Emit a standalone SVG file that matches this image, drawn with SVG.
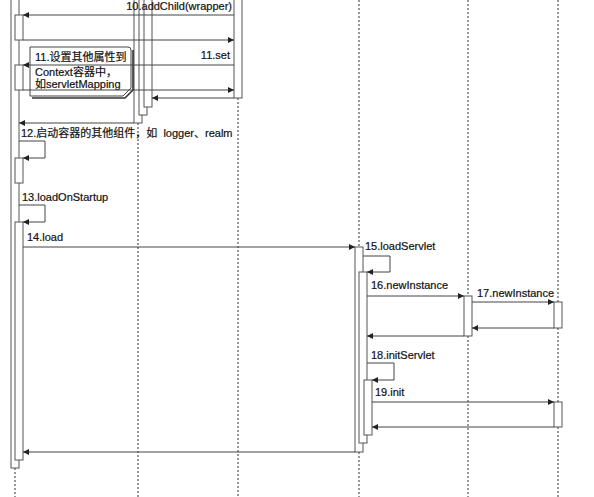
<svg xmlns="http://www.w3.org/2000/svg" width="594" height="497" viewBox="0 0 594 497">
<defs>
<marker id="ah" viewBox="0 0 10 10" refX="10" refY="5" markerWidth="7" markerHeight="6" orient="auto" markerUnits="userSpaceOnUse">
<path d="M0,0 L10,5 L0,10 Z" fill="#222"/>
</marker>
</defs>
<style>
.ll{stroke:#555;stroke-width:1.2;stroke-dasharray:2 2;fill:none}
.bar{fill:#fff;stroke:#555;stroke-width:1}
.msg{stroke:#444;stroke-width:1;fill:none;marker-end:url(#ah)}
text{font-family:"Liberation Sans","Noto Sans CJK SC",sans-serif;font-size:11px;fill:#111;stroke:#111;stroke-width:0.2;white-space:pre}
.r{text-anchor:end}
</style>
<rect width="594" height="497" fill="#fff"/>
<g id="lifeline-left">
<line class="ll" x1="15" y1="468" x2="15" y2="497"/>
<rect class="bar" x="11" y="-1" width="8" height="469"/>
<rect class="bar" x="15" y="15" width="8" height="25"/>
<rect class="bar" x="15" y="65" width="8" height="25"/>
<rect class="bar" x="15" y="158" width="8" height="25"/>
<rect class="bar" x="15" y="222" width="8" height="238"/>
</g>
<g id="lifeline-2">
<line class="ll" x1="138" y1="123" x2="138" y2="497"/>
<rect class="bar" x="134" y="-1" width="8" height="124"/>
<rect class="bar" x="139" y="-1" width="8" height="116"/>
<rect class="bar" x="144" y="-1" width="8" height="108"/>
</g>
<g id="lifeline-3">
<line class="ll" x1="238" y1="98" x2="238" y2="497"/>
<rect class="bar" x="234" y="-1" width="8" height="99"/>
</g>
<g id="lifeline-4">
<line class="ll" x1="359" y1="0" x2="359" y2="247"/>
<line class="ll" x1="359" y1="452" x2="359" y2="497"/>
<rect class="bar" x="355" y="247" width="8" height="205"/>
<rect class="bar" x="359" y="272" width="8" height="171"/>
<rect class="bar" x="364" y="380" width="8" height="55"/>
</g>
<g id="lifeline-5">
<line class="ll" x1="468" y1="0" x2="468" y2="296"/>
<line class="ll" x1="468" y1="336" x2="468" y2="497"/>
<rect class="bar" x="464" y="296" width="8" height="40"/>
</g>
<g id="lifeline-6">
<line class="ll" x1="558" y1="0" x2="558" y2="302"/>
<line class="ll" x1="558" y1="328" x2="558" y2="402"/>
<line class="ll" x1="558" y1="427" x2="558" y2="497"/>
<rect class="bar" x="554" y="302" width="8" height="26"/>
<rect class="bar" x="554" y="402" width="8" height="25"/>
</g>
<g id="note-11">
<path d="M133,50 V90 L125,98 H32" fill="none" stroke="#333" stroke-width="1.6"/>
<path d="M30,47 H128 Q131,47 131,50 V88 L123,96 H30 Z" fill="none" stroke="#444" stroke-width="1"/>
<text x="35" y="61">11.设置其他属性到</text>
<text x="35" y="76">Context容器中，</text>
<text x="35" y="88">如servletMapping</text>
</g>
<g id="connectors">
<line class="msg" x1="234" y1="15" x2="23" y2="15"/>
<text class="r" x="232" y="10">10.addChild(wrapper)</text>
<line class="msg" x1="23" y1="40" x2="234" y2="40"/>
<line class="msg" x1="234" y1="65" x2="23" y2="65"/>
<text class="r" x="230" y="59">11.set</text>
<line class="msg" x1="23" y1="90" x2="234" y2="90"/>
<line class="msg" x1="234" y1="98" x2="152" y2="98"/>
<line class="msg" x1="134" y1="123" x2="19" y2="123"/>
<path class="msg" d="M19,141 H45 V158 H23"/>
<text x="21" y="137">12.启动容器的其他组件，如  logger、realm</text>
<path class="msg" d="M19,205 H45 V222 H23"/>
<text x="22" y="201">13.loadOnStartup</text>
<line class="msg" x1="23" y1="247" x2="355" y2="247"/>
<text x="27" y="241">14.load</text>
<path class="msg" d="M363,256 H390 V272 H367"/>
<text x="365" y="250">15.loadServlet</text>
<line class="msg" x1="367" y1="296" x2="464" y2="296"/>
<text x="371" y="289">16.newInstance</text>
<line class="msg" x1="472" y1="302" x2="554" y2="302"/>
<text x="477" y="297">17.newInstance</text>
<line class="msg" x1="554" y1="328" x2="472" y2="328"/>
<line class="msg" x1="464" y1="336" x2="367" y2="336"/>
<path class="msg" d="M367,363 H394 V380 H372"/>
<text x="371" y="359">18.initServlet</text>
<line class="msg" x1="372" y1="402" x2="554" y2="402"/>
<text x="375" y="396">19.init</text>
<line class="msg" x1="554" y1="427" x2="372" y2="427"/>
<line class="msg" x1="355" y1="452" x2="23" y2="452"/>
</g>
</svg>
